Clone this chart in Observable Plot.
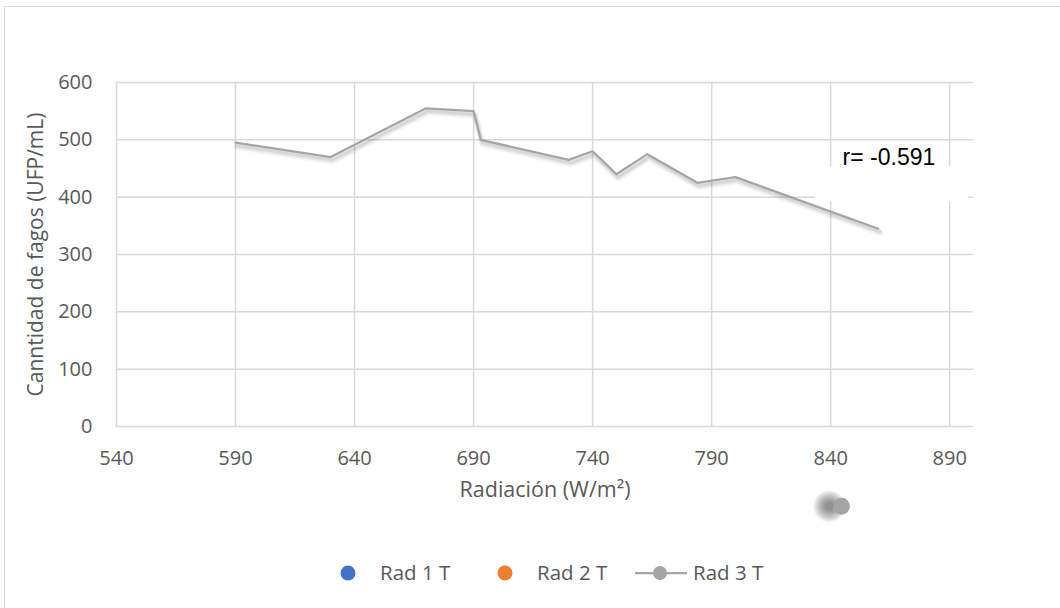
<!DOCTYPE html>
<html>
<head>
<meta charset="utf-8">
<script src="https://cdn.jsdelivr.net/npm/d3@7"></script>
<script src="https://cdn.jsdelivr.net/npm/@observablehq/plot@0.6"></script>
<style>
  html, body { margin: 0; padding: 0; background: #fff; }
  #wrap { position: relative; width: 1060px; height: 608px; overflow: hidden; font-family: "Open Sans", sans-serif; }
  #frame { position: absolute; left: 4px; top: 6px; width: 1100px; height: 700px; border-left: 1.5px solid #d9d9d9; border-top: 1.5px solid #d9d9d9; box-sizing: border-box; }
  #chart { position: absolute; left: 0; top: 0; }
  .leg { position: absolute; top: 560px; font-size: 20.5px; color: #595959; line-height: 24px; white-space: nowrap; }
  .legsym { position: absolute; top: 564px; }
</style>
</head>
<body>
<div id="wrap">
  <div id="frame"></div>
  <div id="chart"></div>
</div>
<script>
// ---- data ----
const radiacion = [590, 630, 670, 690, 693, 730, 740, 750, 763, 784, 800, 860];
const fagos     = [495, 470, 555, 550, 500, 465, 480, 440, 475, 425, 435, 345];
const xTicks = [540, 590, 640, 690, 740, 790, 840, 890];
const yTicks = [0, 100, 200, 300, 400, 500, 600];
const seriesNames = ["Rad 1 T", "Rad 2 T", "Rad 3 T"];
const seriesColors = ["#4472c4", "#ed7d31", "#a5a5a5"];
const rLabel = "r= -0.591";
const rLabelPos = [{x: 845, y: 456}];
const rBox = [{x1: 833.6, x2: 897.9, y1: 392, y2: 453.5}];
const strayMarker = [{x: 844.5, y: -139}];

const data = radiacion.map((x, i) => ({x, y: fagos[i]}));

const grid = "#d9d9d9";
const shadowLayers = [
  {w: 7, o: 0.035, dy: 4},
  {w: 5, o: 0.05, dy: 3.5},
  {w: 3, o: 0.07, dy: 3}
];
const strayShadowRadii = [16, 15, 14, 13, 12, 11, 10, 9, 8, 7, 6, 5, 4];

const plot = Plot.plot({
  width: 1060,
  height: 540,
  marginTop: 82,
  marginBottom: 114,
  marginLeft: 116,
  marginRight: 87,
  style: {fontFamily: "'Open Sans', sans-serif", fontSize: "20px", color: "#595959", background: "transparent", overflow: "visible"},
  x: {domain: [540, 900]},
  y: {domain: [0, 600]},
  marks: [
    Plot.gridY(yTicks, {stroke: grid, strokeOpacity: 1, strokeWidth: 1.5}),
    Plot.gridX(xTicks, {stroke: grid, strokeOpacity: 1, strokeWidth: 1.5}),
    Plot.axisY(yTicks, {tickSize: 0, tickPadding: 24, fontSize: 20, fill: "#595959", label: null}),
    Plot.axisX(xTicks, {tickSize: 0, tickPadding: 24, fontSize: 20, fill: "#595959", label: null}),
    Plot.text(["Canntidad de fagos (UFP/mL)"], {frameAnchor: "left", textAnchor: "middle", dx: -80, rotate: -90, fontSize: 21, fill: "#595959"}),
    Plot.text(["Radiación (W/m²)"], {frameAnchor: "bottom", dy: 70, fontSize: 21.5, fill: "#595959"}),
    Plot.rect(rBox, {x1: "x1", x2: "x2", y1: "y1", y2: "y2", fill: "#fff"}),
    Plot.text(rLabelPos, {x: "x", y: "y", text: () => rLabel, textAnchor: "start", lineAnchor: "bottom", fontSize: 23, fontFamily: "'Liberation Sans', Arial, sans-serif", fill: "#000"}),
    ...shadowLayers.map(s => Plot.line(data, {x: "x", y: "y", stroke: "#000", strokeOpacity: s.o, strokeWidth: s.w, dx: 1.5, dy: s.dy, strokeLinejoin: "round"})),
    Plot.line(data, {x: "x", y: "y", stroke: seriesColors[2], strokeWidth: 2.25}),
    ...strayShadowRadii.map(r => Plot.dot(strayMarker, {x: "x", y: "y", r, fill: "#333", fillOpacity: 0.055, dx: -12})),
    Plot.dot(strayMarker, {x: "x", y: "y", r: 8.5, fill: seriesColors[2]})
  ]
});
document.getElementById("chart").appendChild(plot);

// legend
const ns = "http://www.w3.org/2000/svg";
const wrap = document.getElementById("wrap");
const legX = [{sym: 348, txt: 380}, {sym: 505, txt: 537}, {sym: 660, txt: 693}];
seriesNames.forEach((name, i) => {
  const s = document.createElementNS(ns, "svg");
  s.setAttribute("class", "legsym");
  s.setAttribute("width", 60); s.setAttribute("height", 20);
  s.style.left = (legX[i].sym - 30) + "px";
  if (i === 2) {
    s.innerHTML = `<line x1="5" x2="57" y1="9" y2="9" stroke="${seriesColors[i]}" stroke-width="2.25"/><circle cx="30" cy="9" r="7" fill="${seriesColors[i]}"/>`;
  } else {
    s.innerHTML = `<circle cx="30" cy="9" r="7.5" fill="${seriesColors[i]}"/>`;
  }
  wrap.appendChild(s);
  const t = document.createElement("div");
  t.className = "leg";
  t.style.left = legX[i].txt + "px";
  t.textContent = name;
  wrap.appendChild(t);
});
</script>
</body>
</html>
